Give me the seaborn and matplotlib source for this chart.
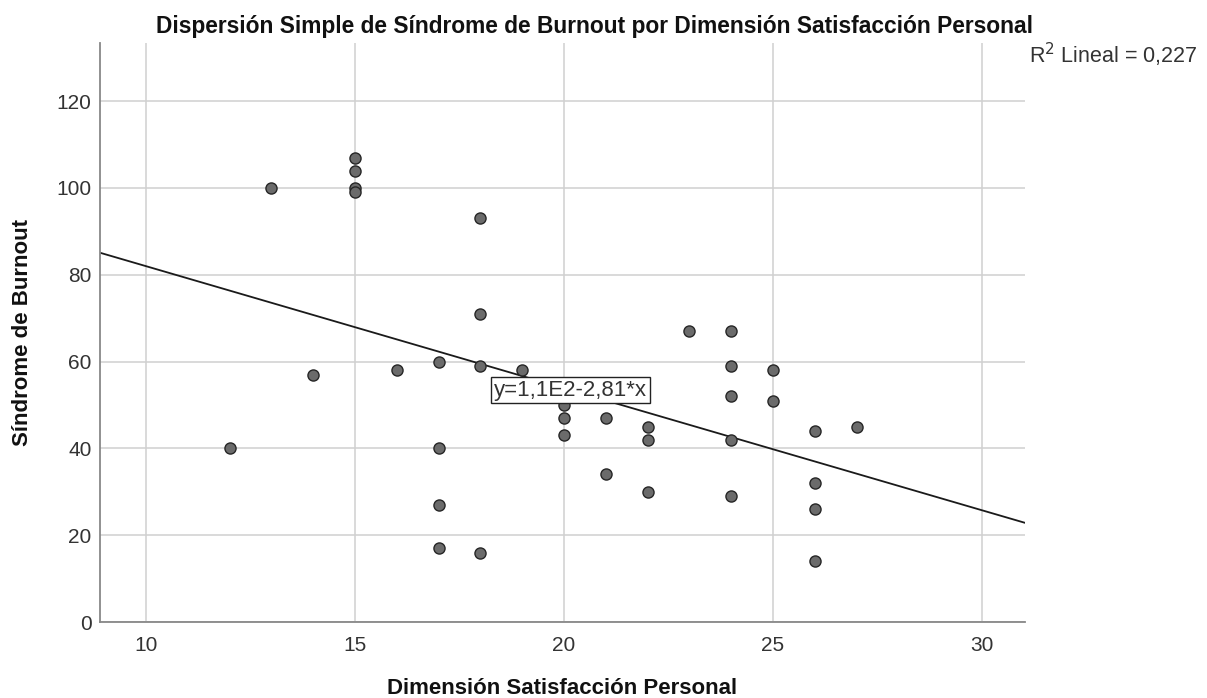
import matplotlib
matplotlib.use("Agg")
import matplotlib.pyplot as plt
import seaborn as sns
import pandas as pd

satisfaccion = [12, 13, 14, 15, 15, 15, 15, 16, 17, 17, 17, 17, 18, 18, 18, 18, 19,
                20, 20, 20, 21, 21, 22, 22, 22, 23, 24, 24, 24, 24, 24, 25, 25,
                26, 26, 26, 26, 27]
burnout = [40, 100, 57, 107, 104, 100, 99, 58, 60, 40, 27, 17, 93, 71, 59, 16, 58,
           50, 47, 43, 47, 34, 45, 42, 30, 67, 67, 59, 52, 42, 29, 58, 51,
           44, 32, 26, 14, 45]
x_ticks = [10, 15, 20, 25, 30]
y_ticks = [0, 20, 40, 60, 80, 100, 120]

df = pd.DataFrame({"x": satisfaccion, "y": burnout})

sns.set_style("white")
plt.rcParams["font.family"] = ["Liberation Sans", "DejaVu Sans"]

fig = plt.figure(figsize=(12.07, 6.98), dpi=100)
ax = fig.add_axes([100 / 1207, 1 - 622 / 698, 925 / 1207, 579 / 698])
ax.set_xlim(8.9, 31.03)
ax.set_ylim(0, 133.4)
ax.set_xticks(x_ticks)
ax.set_yticks(y_ticks)
ax.grid(True, color="#d0d0d0", linewidth=1.1)
ax.set_axisbelow(True)

sns.regplot(data=df, x="x", y="y", ax=ax, ci=None, truncate=False, scatter=False,
            line_kws={"color": "#1a1a1a", "linewidth": 1.3})
sns.scatterplot(data=df, x="x", y="y", ax=ax, s=64, color="#6b6b6b",
                edgecolor="#262626", linewidth=1.0, zorder=3)

for s in ["top", "right"]:
    ax.spines[s].set_visible(False)
for s in ["left", "bottom"]:
    ax.spines[s].set_color("#888888")
    ax.spines[s].set_linewidth(1.3)

ax.tick_params(axis="x", length=0, labelsize=15, labelcolor="#333333", pad=10)
ax.tick_params(axis="y", length=0, labelsize=15, labelcolor="#333333", pad=6)
ax.set_xlabel("Dimensión Satisfacción Personal", fontsize=16, fontweight="bold",
              color="#111111")
ax.set_ylabel("Síndrome de Burnout", fontsize=16, fontweight="bold",
              color="#111111")
ax.xaxis.set_label_coords(0.5, (622 - 688) / 579)
ax.yaxis.set_label_coords((23 - 100) / 925, 0.5)
ax.xaxis.label.set_va("center")
ax.yaxis.label.set_va("center")
fig.text(595 / 1207, 1 - 26 / 698, "Dispersión Simple de Síndrome de Burnout por Dimensión Satisfacción Personal",
         ha="center", va="center", fontsize=16.4, fontweight="bold", color="#111111")
fig.text(1029 / 1207, 1 - 55 / 698, "R$^2$ Lineal = 0,227", ha="left", va="center",
         fontsize=15.5, color="#333333")

ax.text(20.16, 53.4, "y=1,1E2-2,81*x", ha="center", va="center", fontsize=16,
        color="#333333", zorder=5,
        bbox=dict(boxstyle="square,pad=0.12", facecolor="white", edgecolor="#222222",
                  linewidth=1.0))

fig.savefig("out.png", dpi=100)
